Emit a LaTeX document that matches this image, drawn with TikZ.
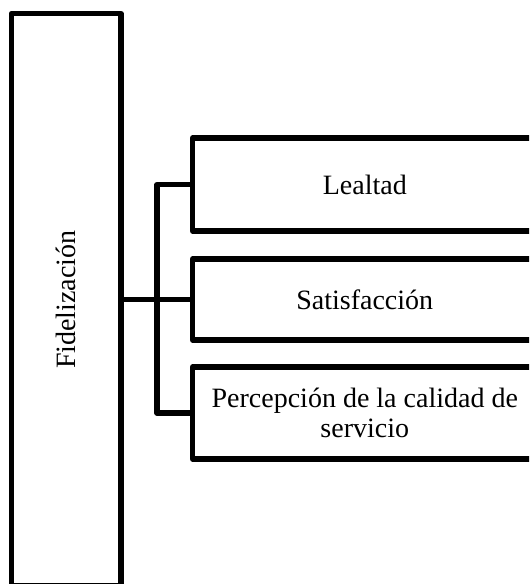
\documentclass[tikz,border=0pt]{standalone}
\usepackage{fontspec}
\setmainfont{Liberation Serif}
\tikzset{
    every node/.style={rectangle, draw, line width=4pt, inner sep=0mm, outer sep=0mm, align=center,
        font=\fontsize{21}{22}\selectfont}
}
\tikzset{dim/.style={minimum width=258.4pt}}

\begin{document}
\begin{tikzpicture}[x=0.75pt, y=-0.75pt, line width=4pt, line join=round]
        \useasboundingbox (0,0) rectangle (529,584);
        \clip (0,0) rectangle (529,584);
        \node (fid) [minimum width=82.2pt, minimum height=429.4pt] at (66.2, 299.75) {\rotatebox{90}{Fidelización}};
        \node (leal) [dim, minimum height=69.75pt] at (364.75, 184.5) {Lealtad};
        \node (sat) [dim, minimum height=60.75pt] at (364.75, 299.5) {Satisfacción};
        \node (perc) [dim, minimum height=69pt] at (364.75, 413) {Percepción de la calidad de\\servicio};
        \coordinate (bus) at (157, 299.5);
        \draw (fid.east |- sat.west) -- (sat.west);
        \draw (leal.west) -| (bus) |- (perc.west);
\end{tikzpicture}
\end{document}
